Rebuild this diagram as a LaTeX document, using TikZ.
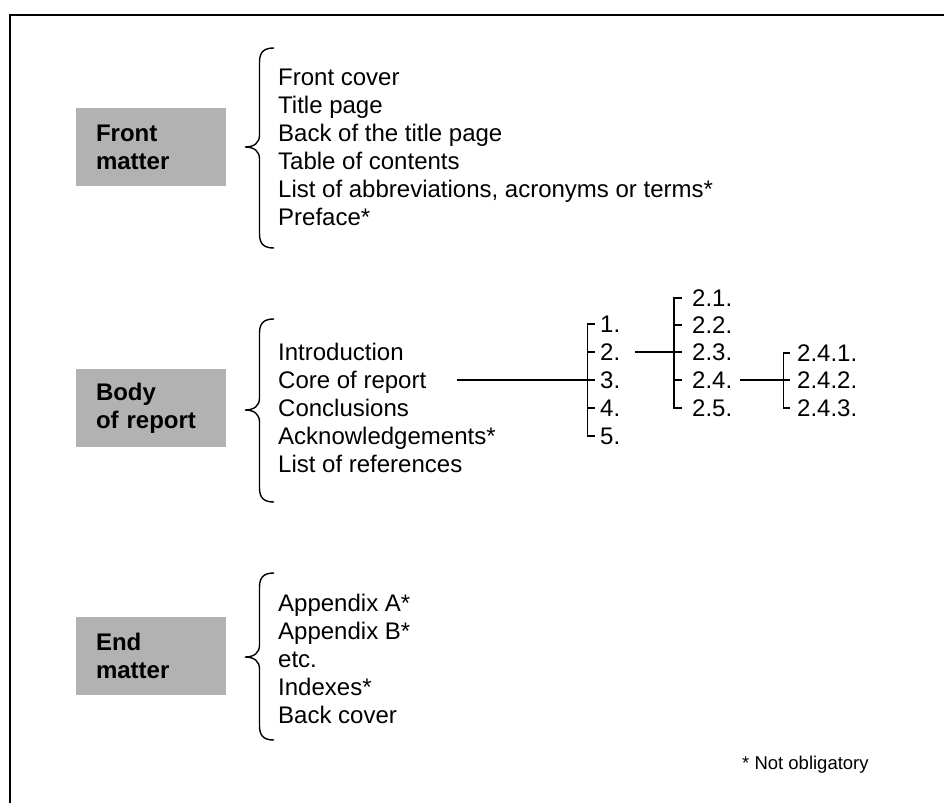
\documentclass[tikz,border=0pt]{standalone}
\usepackage{fontspec}
\setmainfont{Liberation Sans}
\definecolor{boxgray}{RGB}{178,178,178}
\newcommand{\drawbrace}[3]{%
  \draw[bracestroke] (274,#1) .. controls (264,#1) and (259.5,#1+4) .. (259.5,#1+14)
    -- (259.5,#2-12) .. controls (259.5,#2-4) and (254,#2) .. (245,#2)
    .. controls (254,#2) and (259.5,#2+4) .. (259.5,#2+12)
    -- (259.5,#3-14) .. controls (259.5,#3-4) and (264,#3) .. (274,#3);}
\begin{document}
\begin{tikzpicture}[x=1pt,y=-1pt,
  item/.style={anchor=west, inner sep=0pt, text height=17.2pt, text depth=0pt,
    font=\fontsize{24}{28}\selectfont},
  catbox/.style={fill=boxgray, minimum width=150pt, minimum height=78pt,
    text width=110pt, inner xsep=20pt, inner ysep=0pt, align=left,
    font=\fontsize{24}{28}\selectfont\bfseries},
  conn/.style={line width=1.6pt, line cap=butt, line join=miter},
  bracestroke/.style={line width=1.4pt},
  notetext/.style={anchor=west, inner sep=0pt, text height=13.3pt, text depth=0pt,
    font=\fontsize{18.5}{22}\selectfont}]
\useasboundingbox (0,0) rectangle (944,803);
\fill[white] (0,0) rectangle (944,803);
% frame
\draw[line width=2pt] (10,803) -- (10,14.5) -- (944,14.5);

% category boxes
\node[catbox] (front) at (151,147) {Front\\matter};
\node[catbox] (body)  at (151,408) {Body\\of report};
\node[catbox] (endm)  at (151,656) {End\\matter};

% braces
\drawbrace{48}{147}{248}
\drawbrace{319}{410}{502}
\drawbrace{573}{657}{740}

% front matter items
\node[item] (f1) at (278,77)  {Front cover};
\node[item] (f2) at (278,105) {Title page};
\node[item] (f3) at (278,133) {Back of the title page};
\node[item] (f4) at (278,161) {Table of contents};
\node[item] (f5) at (278,189) {List of abbreviations, acronyms or terms*};
\node[item] (f6) at (278,217) {Preface*};

% body items
\node[item] (b1) at (278,352) {Introduction};
\node[item] (b2) at (278,380) {Core of report};
\node[item] (b3) at (278,408) {Conclusions};
\node[item] (b4) at (278,436) {Acknowledgements*};
\node[item] (b5) at (278,464) {List of references};

% end matter items
\node[item] (e1) at (278,603) {Appendix A*};
\node[item] (e2) at (278,631) {Appendix B*};
\node[item] (e3) at (278,659) {etc.};
\node[item] (e4) at (278,687) {Indexes*};
\node[item] (e5) at (278,715) {Back cover};

% level 1 numbers
\node[item] (n1) at (600,324) {1.};
\node[item] (n2) at (600,352) {2.};
\node[item] (n3) at (600,380) {3.};
\node[item] (n4) at (600,408) {4.};
\node[item] (n5) at (600,436) {5.};

% level 2 numbers
\node[item] (m1) at (692,298) {2.1.};
\node[item] (m2) at (692,325) {2.2.};
\node[item] (m3) at (692,352) {2.3.};
\node[item] (m4) at (692,380) {2.4.};
\node[item] (m5) at (692,408) {2.5.};

% level 3 numbers
\node[item] (p1) at (797,353) {2.4.1.};
\node[item] (p2) at (797,380) {2.4.2.};
\node[item] (p3) at (797,408) {2.4.3.};

% bracket geometry
\coordinate (sp1) at (587.3,0);
\coordinate (te1) at (595,0);
\coordinate (sp2) at (674,0);
\coordinate (te2) at (681.5,0);
\coordinate (sp3) at (783.3,0);
\coordinate (te3) at (790,0);
\coordinate (c1) at (456.7,0);
\coordinate (c2) at (635,0);
\coordinate (c3) at (740,0);

% bracket 1
\draw[conn] (te1 |- n1.west) -- (sp1 |- n1.west) -- (sp1 |- n5.west) -- (te1 |- n5.west);
\draw[conn] (sp1 |- n2.west) -- (te1 |- n2.west);
\draw[conn] (sp1 |- n4.west) -- (te1 |- n4.west);
\draw[conn] (c1 |- b2.east) -- (te1 |- n3.west);

% bracket 2
\draw[conn] (te2 |- m1.west) -- (sp2 |- m1.west) -- (sp2 |- m5.west) -- (te2 |- m5.west);
\draw[conn] (sp2 |- m2.west) -- (te2 |- m2.west);
\draw[conn] (sp2 |- m4.west) -- (te2 |- m4.west);
\draw[conn] (c2 |- n2.east) -- (te2 |- m3.west);

% bracket 3
\draw[conn] (te3 |- p1.west) -- (sp3 |- p1.west) -- (sp3 |- p3.west) -- (te3 |- p3.west);
\draw[conn] (c3 |- m4.east) -- (te3 |- p2.west);

% footnote
\node[notetext] (note) at (742,763) {* Not obligatory};
\end{tikzpicture}
\end{document}
